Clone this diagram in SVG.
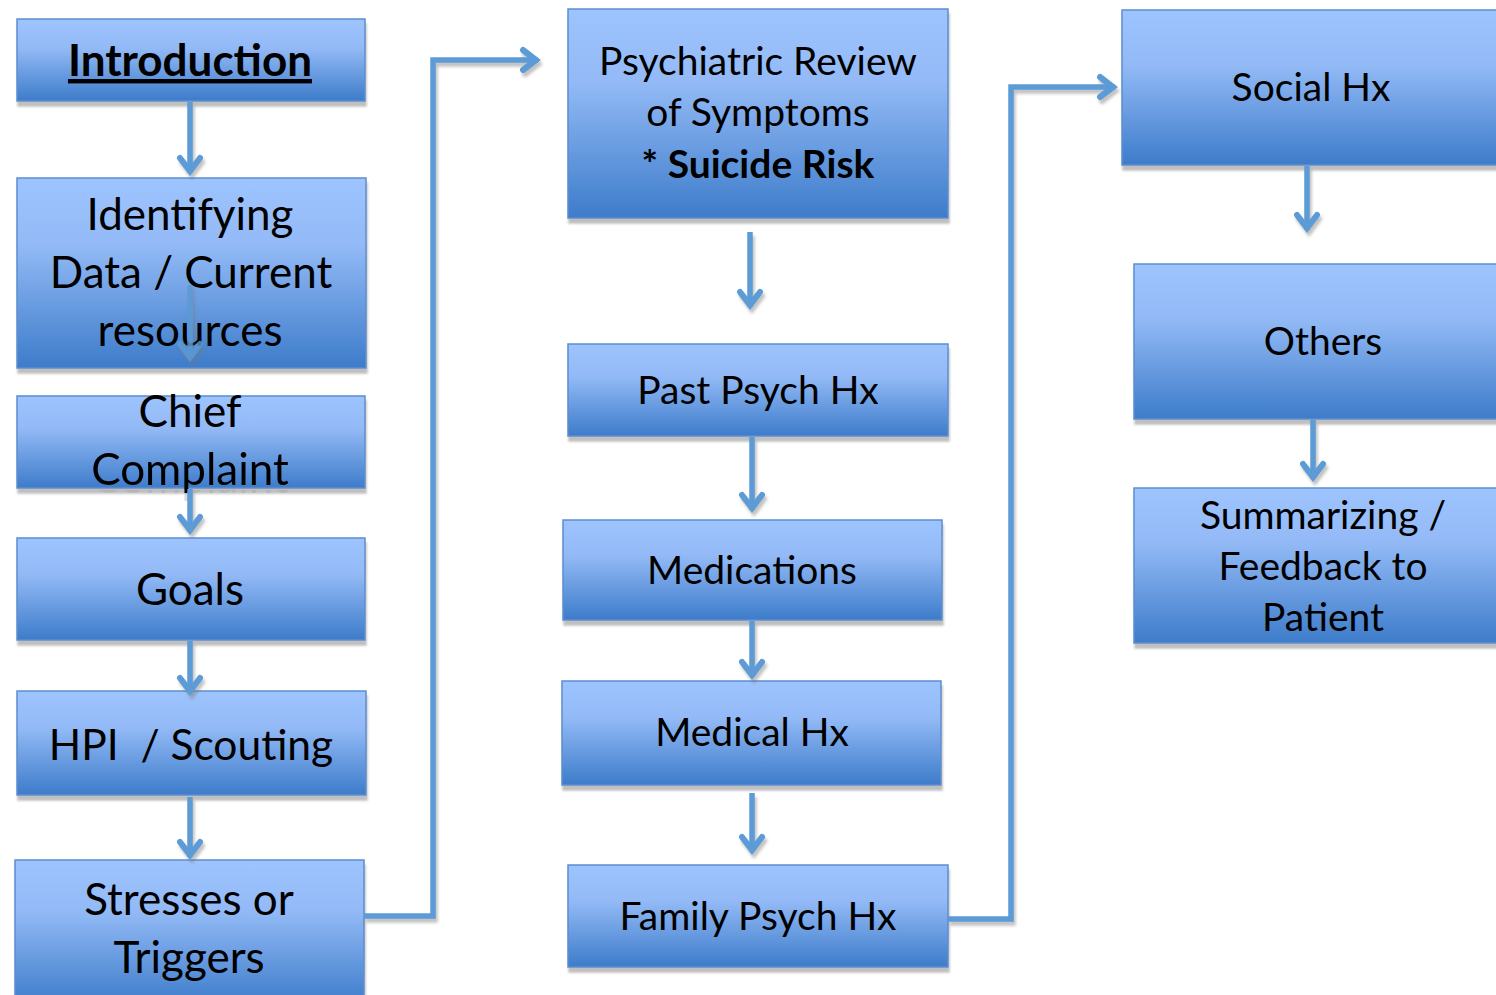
<svg xmlns="http://www.w3.org/2000/svg" width="1496" height="995" viewBox="0 0 1496 995">
  <style>
    .box { fill: url(#boxFill); stroke: #5B8FD0; stroke-width: 1.5; filter: url(#boxShadow); }
    .lbl { font-family: Lato, "Open Sans", sans-serif; fill: #000; text-anchor: middle; }
    .big { font-size: 44px; }
    .mid { font-size: 39px; }
    .bold { font-weight: bold; }
    .conn { fill: none; stroke: #5B9BD5; stroke-width: 5.5; }
  </style>
  <defs>
    <linearGradient id="boxFill" x1="0" y1="0" x2="0" y2="1">
      <stop offset="0" stop-color="#9EC4FF"/>
      <stop offset="0.35" stop-color="#93BAF6"/>
      <stop offset="1" stop-color="#3D7CCA"/>
    </linearGradient>
    <filter id="boxShadow" x="-5%" y="-5%" width="110%" height="120%">
      <feDropShadow dx="1" dy="5" stdDeviation="0.8" flood-color="#b4b4b4" flood-opacity="0.85"/>
    </filter>
    <filter id="lineShadow" x="-20%" y="-20%" width="140%" height="140%">
      <feDropShadow dx="2" dy="4" stdDeviation="1.5" flood-color="#777" flood-opacity="0.45"/>
    </filter>
    <!-- faint text shadow that only shows below the Chief Complaint box -->
    <filter id="lowShadow" filterUnits="userSpaceOnUse" primitiveUnits="userSpaceOnUse" x="0" y="380" width="400" height="140">
      <feOffset in="SourceAlpha" dy="8" x="0" y="490" width="400" height="30" result="off"/>
      <feFlood flood-color="#a0a0a0" flood-opacity="0.35" x="0" y="490" width="400" height="30" result="tint"/>
      <feComposite in="tint" in2="off" operator="in" x="0" y="490" width="400" height="30" result="sh"/>
      <feMerge>
        <feMergeNode in="sh"/>
        <feMergeNode in="SourceGraphic"/>
      </feMerge>
    </filter>
    <marker id="chev" markerUnits="userSpaceOnUse" markerWidth="30" markerHeight="30" refX="2" refY="0" viewBox="-20 -15 30 30" orient="auto" overflow="visible">
      <path d="M-13,-10 L0,0 L-13,10" fill="none" stroke="#5B9BD5" stroke-width="6" stroke-linejoin="miter" stroke-linecap="round"/>
    </marker>
  </defs>

  <rect width="1496" height="995" fill="#fff"/>

  <g id="node-introduction">
    <rect class="box" x="17" y="19" width="348" height="82"/>
    <text class="lbl big bold" x="190" y="76" text-decoration="underline">Introduction</text>
  </g>
  <g id="node-identifying">
    <rect class="box" x="17" y="178" width="349" height="190"/>
    <text class="lbl big" x="190" y="230">Identifying</text>
    <text class="lbl big" x="191" y="288">Data / Current</text>
    <text class="lbl big" x="190" y="346">resources</text>
  </g>
  <g id="node-chief-complaint">
    <rect class="box" x="17" y="396" width="348" height="92"/>
    <text class="lbl big" x="190" y="427">Chief</text>
    <text class="lbl big" x="190" y="485" filter="url(#lowShadow)">Complaint</text>
  </g>
  <g id="node-goals">
    <rect class="box" x="17" y="538" width="348" height="102"/>
    <text class="lbl big" x="190" y="605">Goals</text>
  </g>
  <g id="node-hpi">
    <rect class="box" x="17" y="691" width="349" height="104"/>
    <text class="lbl" x="191" y="760" font-size="42.5" xml:space="preserve" style="white-space:pre">HPI  / Scouting</text>
  </g>
  <g id="node-stresses">
    <rect class="box" x="15" y="860" width="349" height="145"/>
    <text class="lbl big" x="189" y="915">Stresses or</text>
    <text class="lbl big" x="189" y="973">Triggers</text>
  </g>

  <g id="node-psych-review">
    <rect class="box" x="568" y="9" width="380" height="209"/>
    <text class="lbl mid" x="758" y="75">Psychiatric Review</text>
    <text class="lbl mid" x="758" y="126">of Symptoms</text>
    <text class="lbl mid bold" x="758" y="178">* Suicide Risk</text>
  </g>
  <g id="node-past-psych">
    <rect class="box" x="568" y="344" width="380" height="92"/>
    <text class="lbl mid" x="758" y="404">Past Psych Hx</text>
  </g>
  <g id="node-medications">
    <rect class="box" x="563" y="520" width="379" height="100"/>
    <text class="lbl mid" x="752" y="584">Medications</text>
  </g>
  <g id="node-medical">
    <rect class="box" x="562" y="681" width="379" height="104"/>
    <text class="lbl mid" x="752" y="746">Medical Hx</text>
  </g>
  <g id="node-family-psych">
    <rect class="box" x="568" y="865" width="380" height="102"/>
    <text class="lbl mid" x="758" y="930">Family Psych Hx</text>
  </g>

  <g id="node-social">
    <rect class="box" x="1122" y="10" width="390" height="155"/>
    <text class="lbl mid" x="1311" y="101">Social Hx</text>
  </g>
  <g id="node-others">
    <rect class="box" x="1134" y="264" width="380" height="155"/>
    <text class="lbl mid" x="1323" y="355">Others</text>
  </g>
  <g id="node-summarizing">
    <rect class="box" x="1134" y="488" width="380" height="155"/>
    <text class="lbl mid" x="1323" y="529">Summarizing /</text>
    <text class="lbl mid" x="1323" y="580">Feedback to</text>
    <text class="lbl mid" x="1323" y="631">Patient</text>
  </g>

  <g id="connectors" filter="url(#lineShadow)">
    <path class="conn" d="M190,102 V173" marker-end="url(#chev)"/>
    <path class="conn" d="M190,285 V359" marker-end="url(#chev)" opacity="0.8"/>
    <path class="conn" d="M190,489 V532" marker-end="url(#chev)"/>
    <path class="conn" d="M190,641 V693" marker-end="url(#chev)"/>
    <path class="conn" d="M190,797 V857" marker-end="url(#chev)"/>
    <path class="conn" d="M364,916 H433 V60 H538" marker-end="url(#chev)"/>
    <path class="conn" d="M750,232 V307" marker-end="url(#chev)"/>
    <path class="conn" d="M752,437 V510" marker-end="url(#chev)"/>
    <path class="conn" d="M752,621 V677" marker-end="url(#chev)"/>
    <path class="conn" d="M752,793 V852" marker-end="url(#chev)"/>
    <path class="conn" d="M948,919 H1011 V87 H1115" marker-end="url(#chev)"/>
    <path class="conn" d="M1307,166 V230" marker-end="url(#chev)"/>
    <path class="conn" d="M1313,420 V479" marker-end="url(#chev)"/>
  </g>
</svg>
